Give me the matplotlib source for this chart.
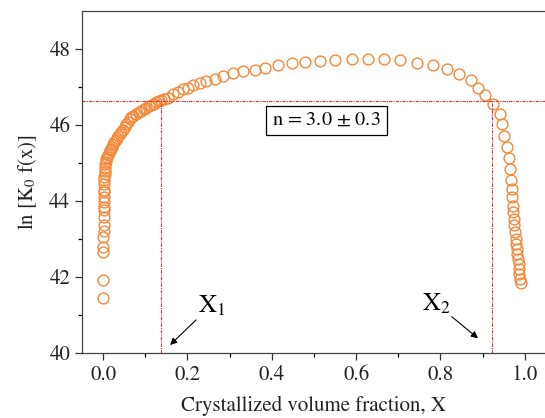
import numpy as np
import matplotlib
matplotlib.use("Agg")
import matplotlib.pyplot as plt

plt.rcParams['font.family'] = ['STIXGeneral', 'DejaVu Serif']
plt.rcParams['mathtext.fontset'] = 'stix'

# crystallized volume fraction X and ln[K0 f(x)]
x_vals = [0.000, 0.000, 0.000, 0.000, 0.000, 0.001, 0.001, 0.001, 0.001, 0.001,
          0.002, 0.002, 0.002, 0.002, 0.003, 0.003, 0.003, 0.004, 0.004, 0.005,
          0.005, 0.006, 0.008, 0.010, 0.012, 0.014, 0.016, 0.018, 0.021, 0.024,
          0.027, 0.030, 0.033, 0.036, 0.040, 0.043, 0.047, 0.051, 0.055, 0.059,
          0.063, 0.067, 0.072, 0.078, 0.084, 0.090, 0.096, 0.102, 0.108, 0.114,
          0.120, 0.126, 0.132, 0.138, 0.145, 0.155, 0.166, 0.178, 0.190, 0.202,
          0.214, 0.229, 0.245, 0.265, 0.285, 0.308, 0.332, 0.360, 0.384, 0.415,
          0.447, 0.478, 0.514, 0.550, 0.590, 0.627, 0.665, 0.705, 0.744, 0.782,
          0.815, 0.844, 0.872, 0.889, 0.906, 0.925, 0.941, 0.945, 0.951, 0.957,
          0.963, 0.965, 0.967, 0.969, 0.970, 0.971, 0.973, 0.974, 0.975, 0.977,
          0.978, 0.979, 0.981, 0.982, 0.983, 0.985, 0.986, 0.987, 0.989, 0.990]
y_vals = [41.45, 41.91, 42.66, 42.80, 43.05, 43.20, 43.36, 43.58, 43.75, 43.84,
          43.97, 44.10, 44.23, 44.30, 44.45, 44.55, 44.63, 44.72, 44.80, 44.88,
          44.97, 45.03, 45.10, 45.15, 45.20, 45.27, 45.33, 45.38, 45.43, 45.50,
          45.55, 45.60, 45.65, 45.70, 45.76, 45.82, 45.88, 45.95, 46.02, 46.08,
          46.15, 46.20, 46.24, 46.28, 46.33, 46.37, 46.41, 46.45, 46.49, 46.53,
          46.56, 46.60, 46.63, 46.66, 46.69, 46.72, 46.81, 46.88, 46.94, 46.98,
          47.04, 47.10, 47.16, 47.22, 47.30, 47.36, 47.41, 47.46, 47.50, 47.58,
          47.62, 47.65, 47.68, 47.71, 47.73, 47.73, 47.73, 47.71, 47.63, 47.58,
          47.47, 47.34, 47.18, 46.97, 46.78, 46.55, 46.28, 46.02, 45.71, 45.41,
          45.13, 44.84, 44.55, 44.32, 44.10, 43.88, 43.70, 43.53, 43.36, 43.18,
          43.01, 42.88, 42.74, 42.61, 42.48, 42.35, 42.22, 42.09, 41.96, 41.83]

level = 46.63
x1, x2 = 0.137, 0.921

fig = plt.figure(figsize=(5.45, 4.18), dpi=100)
ax = fig.add_axes([0.1505, 0.1555, 0.8512, 0.8182])

ax.plot(x_vals, y_vals, 'o', mfc='none', mec='#F5893A', mew=1.0, ms=7.8, ls='none')

# red guide lines
red = '#EC2F35'
ax.axhline(level, color=red, lw=0.8, ls=(0, (3, 1, 1, 1)))
ax.plot([x1, x1], [40, level], color=red, lw=0.8, ls=(0, (3, 1, 1, 1)))
ax.plot([x2, x2], [40, level], color=red, lw=0.8, ls=(0, (3, 1, 1, 1)))

ax.text(0.53, 46.12, r'n = 3.0 $\pm$ 0.3', fontsize=14.5, ha='center', va='center',
        bbox=dict(boxstyle='square,pad=0.3', fc='white', ec='black', lw=0.9))

arrow = dict(arrowstyle='-|>', color='black', lw=0.8, mutation_scale=10)
ax.annotate('', xy=(0.154, 40.16), xytext=(0.225, 40.92), arrowprops=arrow)
ax.annotate('', xy=(0.894, 40.34), xytext=(0.822, 41.0), arrowprops=arrow)
ax.text(0.258, 41.22, r'X$_1$', fontsize=18, ha='center', va='center')
ax.text(0.79, 41.28, r'X$_2$', fontsize=18, ha='center', va='center')

ax.set_xlim(-0.05, 1.05)
ax.set_ylim(40, 49)
ax.set_xticks([0.0, 0.2, 0.4, 0.6, 0.8, 1.0])
ax.set_xticks(np.arange(0.1, 1.0, 0.2), minor=True)
ax.set_yticks([40, 42, 44, 46, 48])
ax.set_yticks([41, 43, 45, 47], minor=True)
ax.xaxis.set_major_formatter(matplotlib.ticker.FormatStrFormatter('%.1f'))
ax.tick_params(which='major', direction='out', length=5, width=0.9, labelsize=15, colors='#333333')
ax.tick_params(which='minor', direction='out', length=3, width=0.9)
ax.tick_params(labelcolor='#222222')
for s in ax.spines.values():
    s.set_linewidth(0.9)
    s.set_color('#444444')

ax.set_xlabel('Crystallized volume fraction, X', fontsize=15, labelpad=8, color='#222222')
ax.set_ylabel(r'ln [K$_0$ f(x)]', fontsize=15, labelpad=7, color='#222222')

fig.savefig('out.png', dpi=100)
